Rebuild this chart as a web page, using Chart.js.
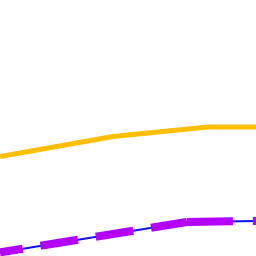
<!DOCTYPE html>
<html>
<head>
<meta charset="utf-8">
<script src="https://cdn.jsdelivr.net/npm/chart.js@4/dist/chart.umd.min.js"></script>
<style>
  html, body { margin: 0; padding: 0; background: #ffffff; }
  #wrap { width: 256px; height: 256px; }
</style>
</head>
<body>
<div id="wrap"><canvas id="c" width="256" height="256"></canvas></div>
<script>
// Data (x on a 0..10 scale, y on a 0..100 scale)
const goldX = [0, 4.41, 8.12, 10];
const goldY = [38.9, 46.7, 50.4, 50.4];
const purpleX = [0, 7.3, 10];
const purpleY = [1.4, 13.3, 13.7];

const toPoints = (xs, ys) => xs.map((x, i) => ({ x: x, y: ys[i] }));

new Chart(document.getElementById('c'), {
  type: 'line',
  data: {
    datasets: [
      {
        label: 'purple',
        data: toPoints(purpleX, purpleY),
        borderColor: '#b400ff',
        borderWidth: 8,
        pointRadius: 0,
        tension: 0,
        borderCapStyle: 'butt',
        segment: {
          borderDash: ctx => ctx.p0DataIndex === 0 ? [38, 18] : [46, 20],
          borderDashOffset: ctx => ctx.p0DataIndex === 0 ? 15 : 0
        }
      },
      {
        label: 'blue',
        data: toPoints(purpleX, purpleY),
        borderColor: '#1010ee',
        borderWidth: 2,
        pointRadius: 0,
        tension: 0
      },
      {
        label: 'gold',
        data: toPoints(goldX, goldY),
        borderColor: '#ffbf00',
        borderWidth: 5,
        pointRadius: 0,
        tension: 0
      }
    ]
  },
  options: {
    responsive: false,
    animation: false,
    layout: { padding: 0 },
    plugins: { legend: { display: false }, tooltip: { enabled: false } },
    scales: {
      x: { type: 'linear', min: 0, max: 10, display: false },
      y: { type: 'linear', min: 0, max: 100, display: false }
    }
  }
});
</script>
</body>
</html>
